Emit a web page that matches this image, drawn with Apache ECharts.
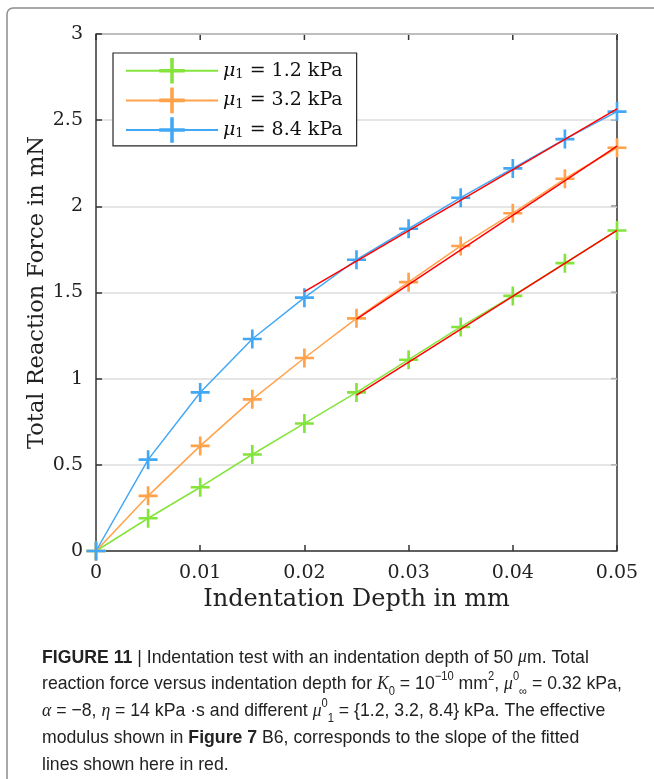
<!DOCTYPE html>
<html>
<head>
<meta charset="utf-8">
<script src="https://cdn.jsdelivr.net/npm/echarts@6/dist/echarts.min.js"></script>
<style>
  html, body { margin: 0; padding: 0; background: #fff; }
  #chart { width: 654px; height: 779px; }
</style>
</head>
<body>
<div id="chart"></div>
<script>
// indentation depth in mm
var depth = [0, 0.005, 0.01, 0.015, 0.02, 0.025, 0.03, 0.035, 0.04, 0.045, 0.05];
// total reaction force in mN
var force12 = [0, 0.19, 0.37, 0.56, 0.74, 0.92, 1.11, 1.30, 1.48, 1.67, 1.86];
var force32 = [0, 0.32, 0.61, 0.88, 1.12, 1.35, 1.56, 1.77, 1.96, 2.16, 2.34];
var force84 = [0, 0.53, 0.92, 1.23, 1.47, 1.69, 1.87, 2.05, 2.22, 2.39, 2.55];
// fitted lines (red), endpoints [x, y]
var fit12 = [[0.025, 0.905], [0.05, 1.86]];
var fit32 = [[0.025, 1.345], [0.05, 2.35]];
var fit84 = [[0.02, 1.505], [0.05, 2.565]];
var seriesNames = ['1.2', '3.2', '8.4'];
var colors = ['#84e43c', '#ffa24a', '#42a8f6'];
var xTicks = [0, 0.01, 0.02, 0.03, 0.04, 0.05];
var yTicks = [0, 0.5, 1, 1.5, 2, 2.5, 3];

var plus = 'path://M8.6,0h2.8v8.6h8.6v2.8h-8.6v8.6h-2.8v-8.6h-8.6v-2.8h8.6z';
var serif = 'DejaVu Serif';
var capFont = 'Liberation Sans';

function pairs(ys) {
  return depth.map(function (x, i) { return [x, ys[i]]; });
}

var myChart = echarts.init(document.getElementById('chart'));

var dataSeries = [force12, force32, force84].map(function (ys, i) {
  return {
    name: seriesNames[i],
    type: 'line',
    data: pairs(ys),
    symbol: plus,
    symbolSize: 19,
    showAllSymbol: true,
    lineStyle: { color: colors[i], width: 1.5 },
    itemStyle: { color: colors[i] },
    z: 2
  };
});
var fitSeries = [fit12, fit32, fit84].map(function (d) {
  return {
    name: 'fit',
    type: 'line',
    data: d,
    symbol: 'none',
    lineStyle: { color: '#ff0000', width: 1.5 },
    z: 3,
    silent: true
  };
});

var caption = [
  '{b|FIGURE 11} {n||} Indentation test with an indentation depth of 50 {i|μ}m. Total',
  'reaction force versus indentation depth for {i|K}{sub|0} = 10{sup|−10} mm{sup|2}, {i|μ}{sup|0}{sub|∞} = 0.32 kPa,',
  '{i|α} = −8, {i|η} = 14 kPa ·s and different {i|μ}{sup|0}{sub|1} = {1.2, 3.2, 8.4} kPa. The effective',
  'modulus shown in {b|Figure 7} B6, corresponds to the slope of the fitted',
  'lines shown here in red.'
];

var option = {
  backgroundColor: '#fff',
  animation: false,
  color: colors,
  grid: { left: 96, right: 37, top: 34, bottom: 228, containLabel: false },
  legend: {
    data: seriesNames,
    orient: 'vertical',
    left: 113,
    top: 53,
    itemWidth: 92,
    itemHeight: 32,
    itemGap: 4,
    padding: [5, 14, 3, 12],
    borderColor: '#262626',
    borderWidth: 1.2,
    backgroundColor: '#fff',
    formatter: function (name) {
      return '{i|μ}{s|1} = ' + name + ' kPa';
    },
    textStyle: {
      fontFamily: serif,
      fontSize: 19,
      color: '#111',
      rich: {
        i: { fontFamily: serif, fontStyle: 'italic', fontSize: 19, color: '#111' },
        s: { fontFamily: serif, fontSize: 13, color: '#111', verticalAlign: 'bottom', padding: [8, 0, 0, 0] }
      }
    }
  },
  xAxis: {
    type: 'value',
    min: 0,
    max: 0.05,
    interval: 0.01,
    name: 'Indentation Depth in mm',
    nameLocation: 'middle',
    nameGap: 37,
    nameMoveOverlap: false,
    nameTextStyle: { fontFamily: serif, fontSize: 24, color: '#222' },
    axisLine: { show: true, onZero: false, lineStyle: { color: '#333', width: 1.5 } },
    axisTick: { show: true, inside: true, length: 6, lineStyle: { color: '#333', width: 1.5 } },
    axisLabel: { fontFamily: serif, fontSize: 19, color: '#222', margin: 13 },
    splitLine: { show: false }
  },
  yAxis: {
    type: 'value',
    min: 0,
    max: 3,
    interval: 0.5,
    name: 'Total Reaction Force in mN',
    nameLocation: 'middle',
    nameGap: 47,
    nameMoveOverlap: false,
    nameTextStyle: { fontFamily: serif, fontSize: 22.5, color: '#222' },
    axisLine: { show: true, onZero: false, lineStyle: { color: '#333', width: 1.5 } },
    axisTick: { show: true, inside: true, length: 6, lineStyle: { color: '#333', width: 1.5 } },
    axisLabel: { fontFamily: serif, fontSize: 19, color: '#222', margin: 13 },
    splitLine: { show: true, lineStyle: { color: '#dcdcdc', width: 1.5 } }
  },
  series: dataSeries.concat(fitSeries),
  graphic: [
    {
      // outer figure frame
      type: 'rect',
      shape: { x: 7, y: 8, width: 700, height: 820, r: 6 },
      style: { fill: 'none', stroke: '#8c8c8c', lineWidth: 1.5 },
      silent: true,
      z: -10
    },
    {
      type: 'text',
      left: 42,
      top: 644,
      scaleX: 0.93,
      silent: true,
      style: {
        text: caption.join('\n'),
        fontFamily: capFont,
        fontSize: 19,
        lineHeight: 26.8,
        fill: '#222',
        rich: {
          b: { fontWeight: 'bold', fontFamily: capFont, fontSize: 19, lineHeight: 26.8 },
          n: { fontFamily: capFont, fontSize: 19, lineHeight: 26.8 },
          i: { fontStyle: 'italic', fontFamily: 'Liberation Serif', fontSize: 19, lineHeight: 26.8 },
          sup: { fontSize: 12, fontFamily: capFont, verticalAlign: 'top', lineHeight: 26.8, padding: [0, 0, 8, 0] },
          sub: { fontSize: 12, fontFamily: capFont, verticalAlign: 'bottom', lineHeight: 26.8, padding: [6, 0, 0, 0] }
        }
      }
    }
  ]
};

myChart.setOption(option);

// mirrored box on top and right, with inward ticks, placed through the axis scales
var boxEls = [];
var tl = myChart.convertToPixel({ gridIndex: 0 }, [0, 3]);
var br = myChart.convertToPixel({ gridIndex: 0 }, [0.05, 0]);
boxEls.push({ type: 'line', silent: true, shape: { x1: tl[0], y1: tl[1], x2: br[0], y2: tl[1] }, style: { stroke: '#333', lineWidth: 1.5 } });
boxEls.push({ type: 'line', silent: true, shape: { x1: br[0], y1: tl[1], x2: br[0], y2: br[1] }, style: { stroke: '#333', lineWidth: 1.5 } });
xTicks.forEach(function (v) {
  var p = myChart.convertToPixel({ gridIndex: 0 }, [v, 3]);
  boxEls.push({ type: 'line', silent: true, shape: { x1: p[0], y1: p[1], x2: p[0], y2: p[1] + 6 }, style: { stroke: '#333', lineWidth: 1.5 } });
});
yTicks.forEach(function (v) {
  var p = myChart.convertToPixel({ gridIndex: 0 }, [0.05, v]);
  boxEls.push({ type: 'line', silent: true, shape: { x1: p[0], y1: p[1], x2: p[0] - 6, y2: p[1] }, style: { stroke: '#333', lineWidth: 1.5 } });
});
myChart.setOption({ graphic: option.graphic.concat([{ type: 'group', silent: true, children: boxEls }]) });
</script>
</body>
</html>
